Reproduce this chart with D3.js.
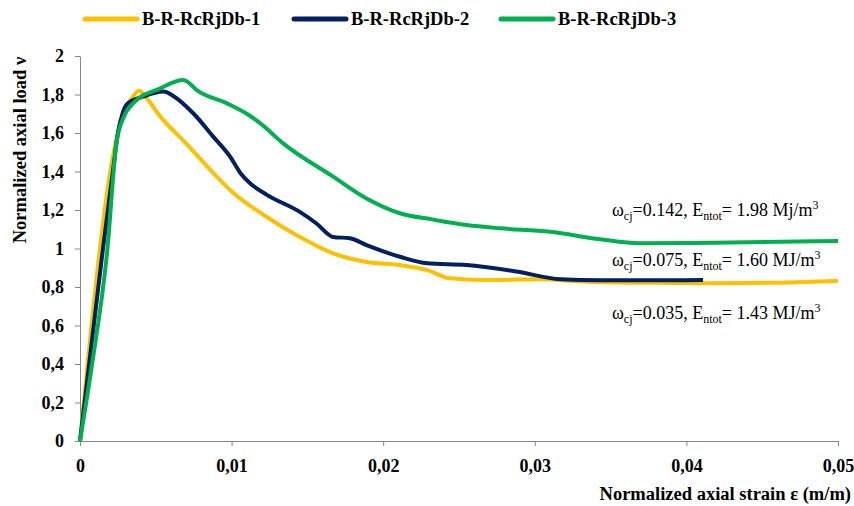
<!DOCTYPE html>
<html lang="en">
<head>
<meta charset="UTF-8">
<title>Normalized axial load vs strain</title>
<script src="https://d3js.org/d3.v7.min.js"></script>
<style>
    body { margin: 0; background: white; }
</style>
</head>
<body>
<svg width="854" height="506"></svg>
<script>
    // Series names and colours
    const seriesNames = ["B-R-RcRjDb-1", "B-R-RcRjDb-2", "B-R-RcRjDb-3"];
    const seriesColors = ["#FFC000", "#002060", "#00B050"];

    // B-R-RcRjDb-1
    const strain1 = [0, 0.0005, 0.0013, 0.002, 0.0025, 0.003, 0.0035, 0.0039, 0.0043, 0.0053, 0.007, 0.0086, 0.0101,
        0.0123, 0.0145, 0.0167, 0.0189, 0.0211, 0.0229, 0.0244, 0.0266, 0.03, 0.034, 0.038, 0.042, 0.046, 0.05];
    const load1 = [0, 0.4, 0.99, 1.4, 1.6, 1.72, 1.79, 1.82, 1.79, 1.685, 1.546, 1.408, 1.29,
        1.165, 1.06, 0.975, 0.93, 0.914, 0.888, 0.845, 0.836, 0.84, 0.826, 0.822, 0.82, 0.822, 0.832];

    // B-R-RcRjDb-2
    const strain2 = [0, 0.0005, 0.0015, 0.0022, 0.0025, 0.0028, 0.0031, 0.0042, 0.0055, 0.0062, 0.0075, 0.0088, 0.0099,
        0.0106, 0.0112, 0.0123, 0.0145, 0.0156, 0.0167, 0.0178, 0.0189, 0.0211, 0.0229, 0.0255, 0.0288, 0.0317,
        0.0343, 0.038, 0.0411];
    const load2 = [0, 0.33, 0.99, 1.42, 1.6, 1.7, 1.75, 1.79, 1.815, 1.79, 1.70, 1.58, 1.477,
        1.39, 1.34, 1.28, 1.19, 1.13, 1.06, 1.053, 1.018, 0.957, 0.923, 0.914, 0.88, 0.84,
        0.835, 0.835, 0.836];

    // B-R-RcRjDb-3
    const strain3 = [0, 0.0008, 0.0018, 0.0024, 0.0029, 0.0035, 0.0053, 0.0068, 0.007, 0.0077, 0.0097, 0.011, 0.0119,
        0.0134, 0.0167, 0.0189, 0.0211, 0.0233, 0.0255, 0.0277, 0.031, 0.0343, 0.0369, 0.0418, 0.05];
    const load3 = [0, 0.4, 0.99, 1.546, 1.685, 1.754, 1.832, 1.875, 1.87, 1.823, 1.754, 1.70, 1.65,
        1.546, 1.373, 1.26, 1.183, 1.15, 1.122, 1.105, 1.087, 1.048, 1.027, 1.03, 1.039];

    const xTicks = [0, 0.01, 0.02, 0.03, 0.04, 0.05];
    const yTicks = [0, 0.2, 0.4, 0.6, 0.8, 1, 1.2, 1.4, 1.6, 1.8, 2];

    // Annotations: [omega, energy, unit, y position in data units]
    const notes = [
        ["0.142", "1.98", "Mj/m", 1.17],
        ["0.075", "1.60", "MJ/m", 0.91],
        ["0.035", "1.43", "MJ/m", 0.635]
    ];

    const serif = "'Liberation Serif', 'Times New Roman', serif";

    const svg = d3.select("svg");
    const margin = { top: 56, right: 16, bottom: 65, left: 80 };
    const width = 854 - margin.left - margin.right;
    const height = 506 - margin.top - margin.bottom;
    const g = svg.append("g").attr("transform", `translate(${margin.left},${margin.top})`);

    const x = d3.scaleLinear().domain([0, 0.05]).range([0, width]);
    const y = d3.scaleLinear().domain([0, 2]).range([height, 0]);

    const fmt = d => String(d).replace(".", ",");

    // Axes
    const xAxis = g.append("g")
        .attr("transform", `translate(0,${height})`)
        .call(d3.axisBottom(x).tickValues(xTicks).tickFormat(fmt).tickSize(5).tickSizeOuter(0));
    xAxis.selectAll("text").attr("dy", 23);

    const yAxis = g.append("g")
        .call(d3.axisLeft(y).tickValues(yTicks).tickFormat(fmt).tickSize(5).tickSizeOuter(0));
    yAxis.selectAll("text").attr("dx", -8);

    g.selectAll(".tick text")
        .style("font-size", "18px")
        .style("font-weight", "bold")
        .attr("fill", "#000");
    g.selectAll(".domain, .tick line").attr("stroke", "#868686");

    // Curves
    const series = [
        { xs: strain1, ys: load1 },
        { xs: strain2, ys: load2 },
        { xs: strain3, ys: load3 }
    ];
    const line = d3.line()
        .x(d => x(d[0]))
        .y(d => y(d[1]))
        .curve(d3.curveMonotoneX);

    series.forEach((s, i) => {
        g.append("path")
            .datum(s.xs.map((v, k) => [v, s.ys[k]]))
            .attr("fill", "none")
            .attr("stroke", seriesColors[i])
            .attr("stroke-width", 4)
            .attr("stroke-linejoin", "round")
            .attr("d", line);
    });

    // Axis titles
    svg.append("text")
        .attr("transform", "rotate(-90)")
        .attr("x", -150)
        .attr("y", 26)
        .attr("text-anchor", "middle")
        .style("font-size", "18.5px")
        .style("font-weight", "bold")
        .text("Normalized axial load ν");

    svg.append("text")
        .attr("x", 851)
        .attr("y", 500)
        .attr("text-anchor", "end")
        .style("font-size", "18.5px")
        .style("font-weight", "bold")
        .text("Normalized axial strain ε (m/m)");

    // Legend
    const legendX = [85, 294, 501];
    seriesNames.forEach((name, i) => {
        svg.append("line")
            .attr("x1", legendX[i]).attr("x2", legendX[i] + 52)
            .attr("y1", 19).attr("y2", 19)
            .attr("stroke", seriesColors[i])
            .attr("stroke-width", 5)
            .attr("stroke-linecap", "round");
        svg.append("text")
            .attr("x", legendX[i] + 57)
            .attr("y", 25)
            .style("font-size", "18.5px")
            .style("font-weight", "bold")
            .text(name);
    });

    // Annotations
    notes.forEach(n => {
        const t = g.append("text")
            .attr("x", 532)
            .attr("y", y(n[3]))
            .style("font-size", "18px");
        t.append("tspan").text("ω");
        t.append("tspan").attr("dy", 4).style("font-size", "12px").text("cj");
        t.append("tspan").attr("dy", -4).text("=" + n[0] + ", E");
        t.append("tspan").attr("dy", 4).style("font-size", "12px").text("ntot");
        t.append("tspan").attr("dy", -4).text("= " + n[1] + " " + n[2]);
        t.append("tspan").attr("dy", -7).style("font-size", "12px").text("3");
    });

    // Serif face for every label
    svg.selectAll("g").attr("font-family", null);
    svg.selectAll("text").style("font-family", serif);
</script>
</body>
</html>
